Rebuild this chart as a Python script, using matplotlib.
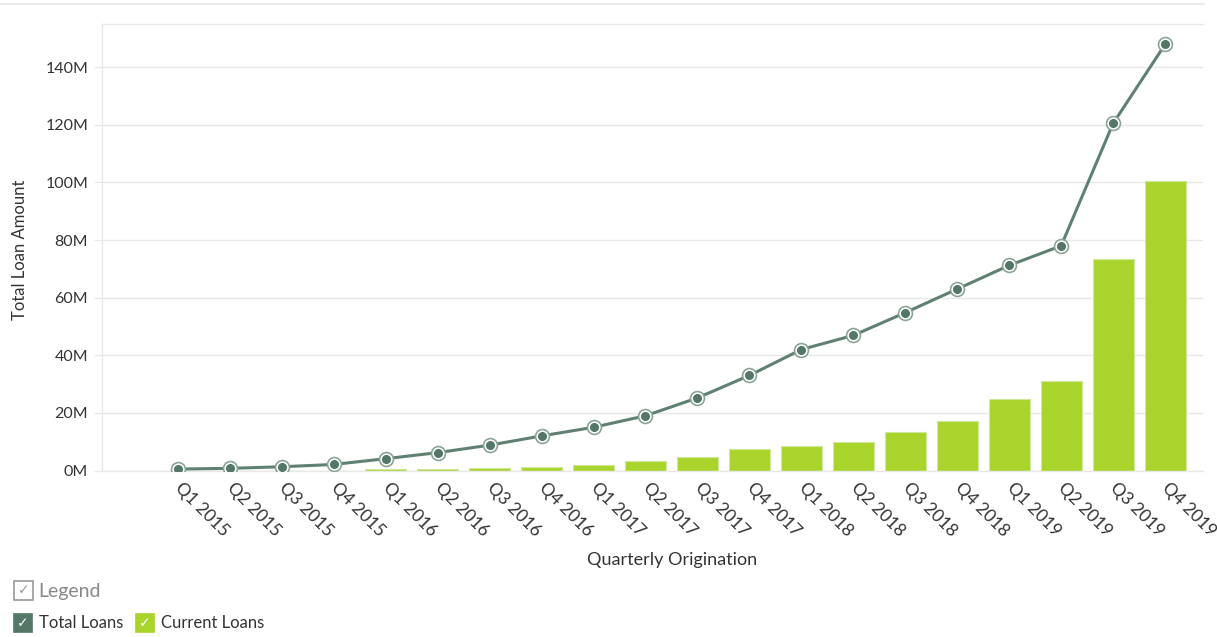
import matplotlib.pyplot as plt
import matplotlib.patches as mpatches
from matplotlib.lines import Line2D
from matplotlib.ticker import FuncFormatter

quarters = ["Q1 2015", "Q2 2015", "Q3 2015", "Q4 2015",
            "Q1 2016", "Q2 2016", "Q3 2016", "Q4 2016",
            "Q1 2017", "Q2 2017", "Q3 2017", "Q4 2017",
            "Q1 2018", "Q2 2018", "Q3 2018", "Q4 2018",
            "Q1 2019", "Q2 2019", "Q3 2019", "Q4 2019"]
# values in millions
total_loans = [0.5, 0.75, 1.3, 2.1, 4.1, 6.2, 8.8, 12.0, 15.0, 19.0,
               25.2, 33.0, 42.0, 46.9, 54.8, 63.0, 71.2, 78.0, 120.5, 147.9]
current_loans = [0, 0, 0, 0, 0.4, 0.4, 0.85, 1.1, 1.8, 3.3,
                 4.7, 7.6, 8.6, 9.9, 13.5, 17.1, 24.7, 31.0, 73.3, 100.6]
y_ticks = [0, 20, 40, 60, 80, 100, 120, 140]

line_col = "#5f8172"
dot_col = "#557767"
bar_col = "#a8d42c"
grid_col = "#e8e8e8"
txt_col = "#333333"

plt.rcParams['font.family'] = ['Lato', 'DejaVu Sans']

fig = plt.figure(figsize=(12.17, 6.37), dpi=100)
ax = fig.add_axes([102/1217, 1 - 470.5/637, 1101/1217, 446.5/637])

x = list(range(len(quarters)))
ax.bar(x, current_loans, width=0.79, color=bar_col, edgecolor="#cfe89a",
       linewidth=0.8, zorder=2)
ax.plot(x, total_loans, color=line_col, linewidth=2.2, zorder=3)
ax.plot(x, total_loans, linestyle="none", marker="o", markersize=10,
        markerfacecolor="white", markeredgecolor="#8aa498",
        markeredgewidth=1.2, zorder=4)
ax.plot(x, total_loans, linestyle="none", marker="o", markersize=5.5,
        markerfacecolor=dot_col, markeredgecolor=dot_col, zorder=5)

ax.set_xlim(-1.46, 19.73)
ax.set_ylim(0, 155)
ax.set_yticks(y_ticks)
ax.yaxis.set_major_formatter(FuncFormatter(lambda v, p: f"{int(v)}M"))
ax.grid(axis="y", color=grid_col, linewidth=1, zorder=0)
ax.set_axisbelow(True)

ax.set_xticks(x)
ax.set_xticklabels(quarters, rotation=-45, ha="left", va="center",
                   rotation_mode="anchor", fontsize=12.5, color=txt_col)
ax.tick_params(axis="x", length=0, pad=11)
ax.tick_params(axis="y", length=6, color=grid_col, labelsize=11.5,
               labelcolor=txt_col, pad=4)

for s in ["right"]:
    ax.spines[s].set_visible(False)
for s in ["left", "top", "bottom"]:
    ax.spines[s].set_color(grid_col)
    ax.spines[s].set_linewidth(1)

fig.text(672/1217, 1 - 560/637, "Quarterly Origination", ha="center",
         va="center", fontsize=13, color=txt_col)
fig.text(20/1217, 1 - 250/637, "Total Loan Amount", ha="center",
         va="center", rotation=90, fontsize=12, color=txt_col)

# top border line
fig.add_artist(Line2D([0, 1204/1217], [1 - 4/637, 1 - 4/637],
                      color="#e6e6e6", linewidth=1.2))

# legend (custom check boxes)
def box(x0, y0, size, face, edge, check_col):
    fig.add_artist(mpatches.Rectangle((x0/1217, 1 - (y0 + size)/637),
                                      size/1217, size/637,
                                      facecolor=face, edgecolor=edge,
                                      linewidth=1.2))
    fig.text((x0 + size/2)/1217, 1 - (y0 + size/2)/637, "\u2713",
             ha="center", va="center", fontsize=10, color=check_col,
             family="DejaVu Sans")

box(14, 581, 19, "white", "#999999", "#999999")
fig.text(38/1217, 1 - 591/637, "Legend", ha="left", va="center",
         fontsize=14, color="#888888")
box(14, 614, 18, "#557767", "#557767", "white")
fig.text(39/1217, 1 - 623/637, "Total Loans", ha="left", va="center",
         fontsize=12, color=txt_col)
box(136, 614, 18, bar_col, bar_col, "white")
fig.text(161/1217, 1 - 623/637, "Current Loans", ha="left", va="center",
         fontsize=12, color=txt_col)

fig.savefig("out.png", dpi=100)
